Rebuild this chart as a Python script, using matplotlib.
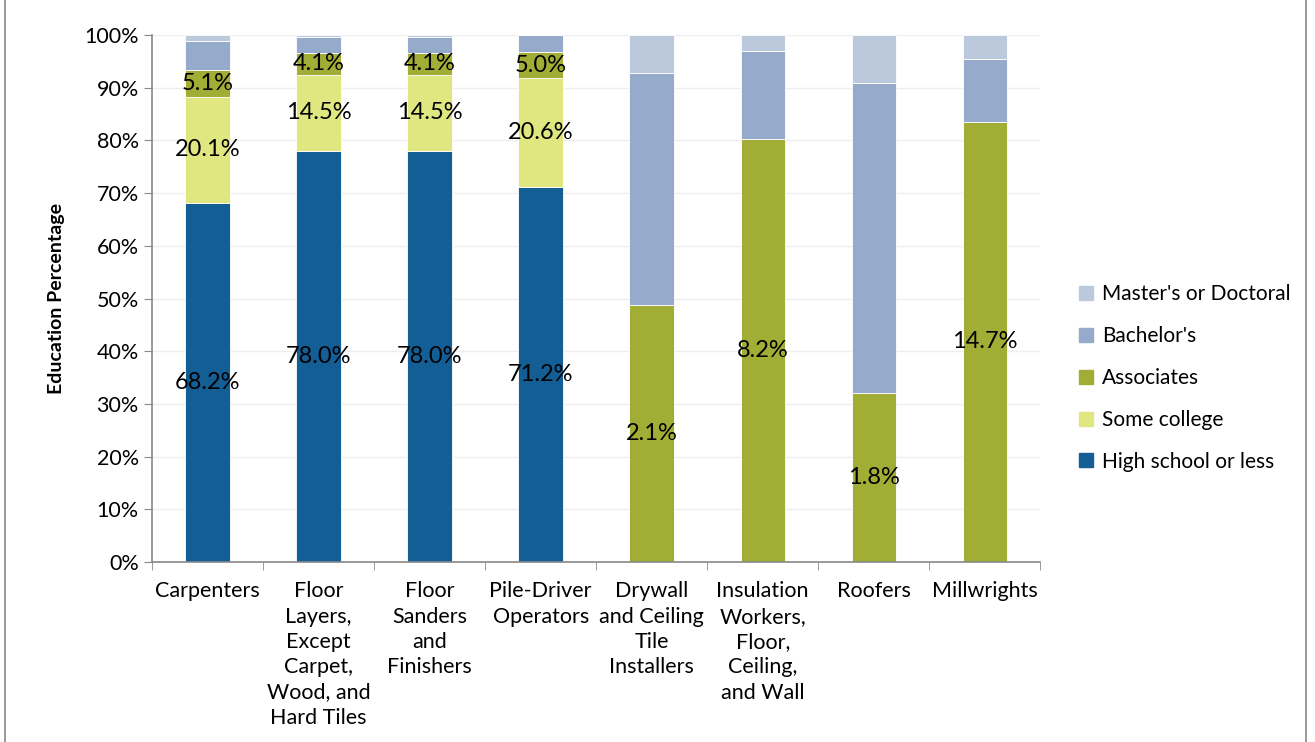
import matplotlib
matplotlib.use("Agg")
import matplotlib.pyplot as plt
from matplotlib.lines import Line2D
import numpy as np

plt.rcParams["font.family"] = ["Lato", "DejaVu Sans"]

occupations = ["Carpenters", "Floor\nLayers,\nExcept\nCarpet,\nWood, and\nHard Tiles",
               "Floor\nSanders\nand\nFinishers", "Pile-Driver\nOperators",
               "Drywall\nand Ceiling\nTile\nInstallers",
               "Insulation\nWorkers,\nFloor,\nCeiling,\nand Wall", "Roofers", "Millwrights"]

high_school = [68.2, 78.0, 78.0, 71.2, 0, 0, 0, 0]
some_college = [20.1, 14.5, 14.5, 20.6, 0, 0, 0, 0]
associates = [5.1, 4.1, 4.1, 5.0, 48.8, 80.3, 32.1, 83.5]
bachelors = [5.5, 3.0, 3.0, 3.2, 44.0, 16.7, 58.8, 11.9]
masters = [1.1, 0.4, 0.4, 0.0, 7.2, 3.0, 9.1, 4.6]

# labels as printed on the chart
hs_labels = ["68.2%", "78.0%", "78.0%", "71.2%", "", "", "", ""]
sc_labels = ["20.1%", "14.5%", "14.5%", "20.6%", "", "", "", ""]
assoc_labels = ["5.1%", "4.1%", "4.1%", "5.0%", "2.1%", "8.2%", "1.8%", "14.7%"]

series = [
    ("High school or less", high_school, "#145E96", hs_labels),
    ("Some college", some_college, "#E0E680", sc_labels),
    ("Associates", associates, "#A2AD36", assoc_labels),
    ("Bachelor's", bachelors, "#96AACB", None),
    ("Master's or Doctoral", masters, "#BCC8DC", None),
]

fig = plt.figure(figsize=(13.15, 7.42), dpi=100)
ax = fig.add_axes([0.1156, 0.2426, 0.6755, 0.7102])

x = np.arange(len(occupations))
bottom = np.zeros(len(occupations))
handles = []
for name, values, color, labels in series:
    values = np.array(values)
    ax.bar(x, values, 0.4, bottom=bottom, color=color, edgecolor="white", linewidth=0.6, zorder=2)
    if labels:
        for xi, b, v, lab in zip(x, bottom, values, labels):
            if lab:
                ax.text(xi, b + v / 2, lab, ha="center", va="center", fontsize=17, color="black", zorder=3)
    bottom += values
    handles.append(Line2D([], [], marker="s", linestyle="none", markersize=10, color=color, label=name))

ax.set_xlim(-0.5, len(occupations) - 0.5)
ax.set_ylim(0, 100)
ax.set_yticks(np.arange(0, 101, 10))
ax.set_yticklabels(["{}%".format(v) for v in range(0, 101, 10)], fontsize=15.5)
ax.set_xticks(x)
ax.set_xticklabels(occupations, fontsize=15.5, linespacing=1.33)
ax.set_xticks(np.arange(-0.5, len(occupations)), minor=True)
ax.tick_params(axis="x", which="major", length=0, pad=14)
ax.tick_params(axis="x", which="minor", length=6, color="#888888")
ax.tick_params(axis="y", length=6, color="#888888", direction="out")
ax.yaxis.grid(True, color="#EEEEEE", linewidth=1, zorder=0)
ax.set_axisbelow(True)
for side in ["top", "right"]:
    ax.spines[side].set_visible(False)
for side in ["left", "bottom"]:
    ax.spines[side].set_color("#888888")
    ax.spines[side].set_linewidth(1.2)
ax.set_ylabel("Education Percentage", fontsize=14, fontweight="bold", labelpad=14)

fig.legend(handles=handles[::-1], loc="center left", bbox_to_anchor=(0.805, 0.4906),
           frameon=False, fontsize=15, labelspacing=1.05, handlelength=0.8, handletextpad=0.4)

# outer chart border
fig.add_artist(Line2D([0.004, 0.004], [0, 1], color="#888888", linewidth=1.2, transform=fig.transFigure))
fig.add_artist(Line2D([0.993, 0.993], [0, 1], color="#888888", linewidth=1.2, transform=fig.transFigure))

fig.savefig("out.png", dpi=100)
